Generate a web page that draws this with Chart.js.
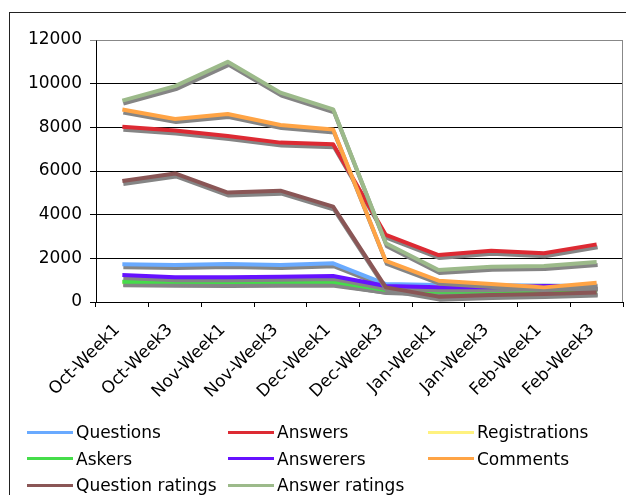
<!DOCTYPE html>
<html>
<head>
<meta charset="utf-8">
<script src="https://cdn.jsdelivr.net/npm/chart.js"></script>
<style>
  html, body { margin: 0; padding: 0; background: #fff; overflow: hidden; }
  #wrap { position: relative; width: 626px; height: 495px; }
  #frame { position: absolute; left: 9px; top: 12px; width: 700px; height: 600px;
           border-left: 1px solid #222; border-top: 1px solid #222; }
  #chart { position: absolute; left: 0; top: 0; }
  #legend { position: absolute; left: 27px; top: 419px; width: 600px;
            display: grid; grid-template-columns: 201px 200px 200px; grid-auto-rows: 26.5px;
            font-family: "DejaVu Sans", Verdana, sans-serif; font-size: 17px; color: #000; }
  .item { display: flex; align-items: center; white-space: nowrap; }
  .swatch { width: 46px; height: 3px; margin-right: 3px; }
</style>
</head>
<body>
<div id="wrap">
  <div id="frame"></div>
  <canvas id="chart" width="626" height="495"></canvas>
  <div id="legend"></div>
</div>
<script>
// categories
const weeks = ['Oct-Week1', 'Oct-Week3', 'Nov-Week1', 'Nov-Week3', 'Dec-Week1',
               'Dec-Week3', 'Jan-Week1', 'Jan-Week3', 'Feb-Week1', 'Feb-Week3'];

// series values
const questions       = [1725, 1695, 1740, 1695, 1770, 820, 780, 770, 760, 720];
const answers         = [8030, 7850, 7600, 7300, 7230, 3070, 2150, 2350, 2230, 2640];
const registrations   = [900, 880, 870, 880, 880, 560, 700, 720, 740, 700];
const askers          = [930, 930, 920, 930, 930, 550, 470, 480, 490, 480];
const answerers       = [1235, 1130, 1130, 1160, 1190, 730, 670, 670, 730, 730];
const comments        = [8820, 8380, 8610, 8110, 7900, 1880, 975, 825, 670, 885];
const questionRatings = [5540, 5890, 5010, 5100, 4365, 670, 245, 320, 365, 430];
const answerRatings   = [9220, 9890, 11000, 9590, 8825, 2690, 1465, 1620, 1650, 1830];

// y axis ticks
const yMin = 0, yMax = 12000, yStep = 2000;

const series = [
  { label: 'Questions',        data: questions,       color: '#69aaff' },
  { label: 'Answers',          data: answers,         color: '#dd2a33' },
  { label: 'Registrations',    data: registrations,   color: '#fff27f' },
  { label: 'Askers',           data: askers,          color: '#45dd4a' },
  { label: 'Answerers',        data: answerers,       color: '#6611ff' },
  { label: 'Comments',         data: comments,        color: '#ffa445' },
  { label: 'Question ratings', data: questionRatings, color: '#8a5656' },
  { label: 'Answer ratings',   data: answerRatings,   color: '#9cba8a' }
];

// Excel-like drop shadow under every line (solid grey so overlaps don't darken)
const shadowPlugin = {
  id: 'lineShadow',
  beforeDatasetDraw(chart) {
    const c = chart.ctx;
    c.save();
    c.shadowColor = '#858585';
    c.shadowOffsetX = 1;
    c.shadowOffsetY = 3;
    c.shadowBlur = 0;
  },
  afterDatasetDraw(chart) {
    chart.ctx.restore();
  }
};

// grey border on the top and right of the plot area
const plotFrame = {
  id: 'plotFrame',
  beforeDatasetsDraw(chart) {
    const { ctx, chartArea: a } = chart;
    ctx.save();
    ctx.strokeStyle = '#888';
    ctx.lineWidth = 1;
    ctx.beginPath();
    ctx.moveTo(Math.round(a.left) + 0.5, Math.round(a.top) + 0.5);
    ctx.lineTo(Math.round(a.right) - 0.5, Math.round(a.top) + 0.5);
    ctx.lineTo(Math.round(a.right) - 0.5, Math.round(a.bottom));
    ctx.stroke();
    ctx.restore();
  }
};

const tickFont = { family: '"DejaVu Sans", Verdana, sans-serif', size: 17 };

const chart = new Chart(document.getElementById('chart'), {
  type: 'line',
  data: {
    labels: weeks,
    datasets: series.map((s, i) => ({
      label: s.label,
      data: s.data,
      borderColor: s.color,
      backgroundColor: s.color,
      borderWidth: 4,
      borderJoinStyle: 'round',
      borderCapStyle: 'butt',
      pointRadius: 0,
      tension: 0,
      order: -i // later series on top, like the original
    }))
  },
  options: {
    responsive: false,
    animation: false,
    layout: { padding: { top: 40, right: 3, left: 0, bottom: 0 } },
    plugins: {
      legend: { display: false },
      tooltip: { enabled: false }
    },
    scales: {
      x: {
        offset: true,
        grid: { offset: true, drawOnChartArea: false, tickLength: 5, color: '#000' },
        border: { color: '#000' },
        ticks: {
          autoSkip: false, minRotation: 45, maxRotation: 45,
          padding: 13, labelOffset: -5, color: '#000', font: tickFont
        },
        afterFit(scale) { scale.height = 193; }
      },
      y: {
        min: yMin, max: yMax,
        grid: {
          tickLength: 6,
          color: (ctx) => (ctx.tick && ctx.tick.value === yMax ? '#888' : '#000')
        },
        border: { color: '#000' },
        ticks: {
          stepSize: yStep, padding: 8, color: '#000', font: tickFont,
          callback: (v) => String(v)
        },
        afterFit(scale) { scale.width = 96; }
      }
    }
  },
  plugins: [shadowPlugin, plotFrame]
});

// HTML legend in three columns, built from the chart's datasets
const legend = document.getElementById('legend');
chart.data.datasets.forEach((ds) => {
  const item = document.createElement('div');
  item.className = 'item';
  const sw = document.createElement('span');
  sw.className = 'swatch';
  sw.style.background = ds.borderColor;
  const txt = document.createElement('span');
  txt.textContent = ds.label;
  item.appendChild(sw);
  item.appendChild(txt);
  legend.appendChild(item);
});
</script>
</body>
</html>
